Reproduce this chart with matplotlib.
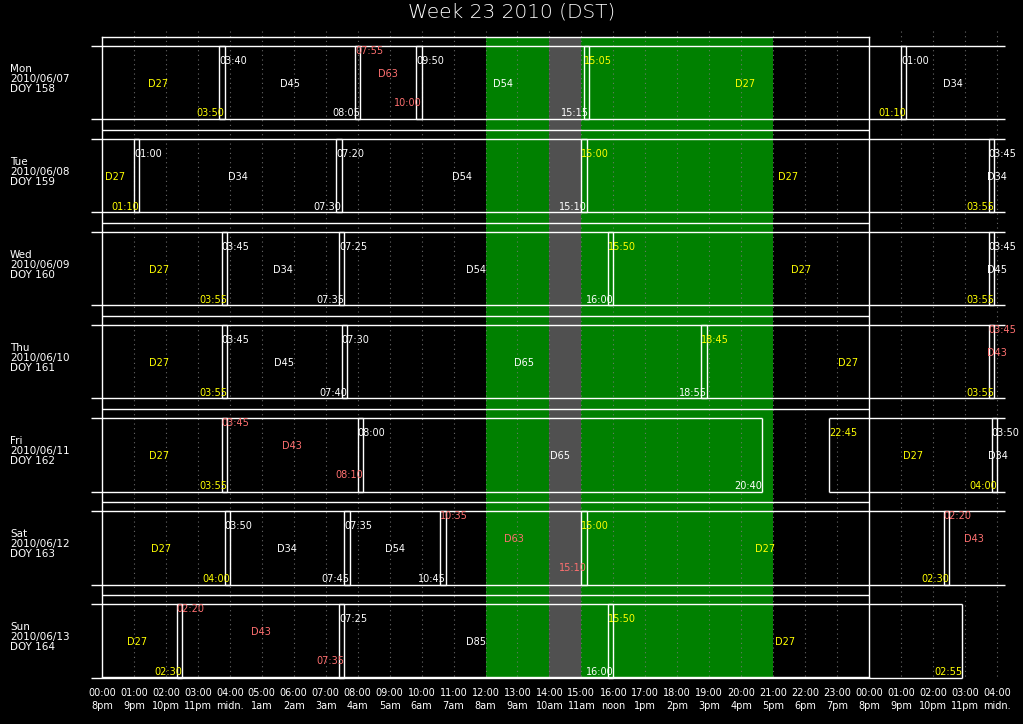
import matplotlib
matplotlib.use("Agg")
import matplotlib.pyplot as plt

plt.rcParams['font.family'] = ['DejaVu Sans']

# ---------------- data ----------------
title = "Week 23 2010 (DST)"
day_names = ["Mon", "Tue", "Wed", "Thu", "Fri", "Sat", "Sun"]
day_dates = ["2010/06/07", "2010/06/08", "2010/06/09", "2010/06/10",
             "2010/06/11", "2010/06/12", "2010/06/13"]
day_doy = [158, 159, 160, 161, 162, 163, 164]

# sessions over the week (day index: 0 = Mon ... 7 = next Mon)
stations = ["D27", "D45", "D63", "D54", "D27",
            "D34", "D54", "D27",
            "D34", "D54", "D27",
            "D45", "D65", "D27",
            "D43", "D65", "D27",
            "D34", "D54", "D63", "D27",
            "D43", "D85", "D27"]
start_day = [None, 0, 0, 0, 0,
             1, 1, 1,
             2, 2, 2,
             3, 3, 3,
             4, 4, 4,
             5, 5, 5, 5,
             6, 6, 6]
start_time = [None, "03:40", "07:55", "09:50", "15:05",
              "01:00", "07:20", "15:00",
              "03:45", "07:25", "15:50",
              "03:45", "07:30", "18:45",
              "03:45", "08:00", "22:45",
              "03:50", "07:35", "10:35", "15:00",
              "02:20", "07:25", "15:50"]
end_day = [0, 0, 0, 0, 1,
           1, 1, 2,
           2, 2, 3,
           3, 3, 4,
           4, 4, 5,
           5, 5, 5, 6,
           6, 6, 7]
end_time = ["03:50", "08:05", "10:00", "15:15", "01:10",
            "07:30", "15:10", "03:55",
            "07:35", "16:00", "03:55",
            "07:40", "18:55", "03:55",
            "08:10", "20:40", "04:00",
            "07:45", "10:45", "15:10", "02:30",
            "07:35", "16:00", "02:55"]

station_colors = {"D27": "#ffff00", "D43": "#ff7070", "D63": "#ff7070"}
red_group = {"D43", "D63"}

green_span = (12, 21)
gray_span = (14, 15)

tick_hours = list(range(0, 29))
tick_utc = ["00:00", "01:00", "02:00", "03:00", "04:00", "05:00", "06:00",
            "07:00", "08:00", "09:00", "10:00", "11:00", "12:00", "13:00",
            "14:00", "15:00", "16:00", "17:00", "18:00", "19:00", "20:00",
            "21:00", "22:00", "23:00", "00:00", "01:00", "02:00", "03:00",
            "04:00"]
tick_local = ["8pm", "9pm", "10pm", "11pm", "midn.", "1am", "2am", "3am",
              "4am", "5am", "6am", "7am", "8am", "9am", "10am", "11am",
              "noon", "1pm", "2pm", "3pm", "4pm", "5pm", "6pm", "7pm",
              "8pm", "9pm", "10pm", "11pm", "midn."]

# ---------------- layout ----------------
W, H = 1023, 724
fig = plt.figure(figsize=(W / 100, H / 100), dpi=100, facecolor="black")
ax = fig.add_axes([102 / W, 1 - 677 / H, 767 / W, 640 / H])
ax.set_facecolor("black")
ax.set_xlim(0, 24)
ax.set_ylim(640, 0)  # y in pixel-like units from axes top
ax.set_xticks([])
ax.set_yticks([])
for s in ax.spines.values():
    s.set_color("white")
    s.set_linewidth(1.0)
    s.set_zorder(5)

PITCH = 93.05
BAND_OFF = 8.5
BAND_H = 73.8
XL, XR = -0.33, 28.26
FS = 7

def hrs(t):
    h, m = t.split(":")
    return int(h) + int(m) / 60.0

ax.axvspan(*green_span, color="#008000", zorder=0, lw=0)
ax.axvspan(*gray_span, color="#505050", zorder=0.5, lw=0)

grid_hours = [h for h in tick_hours if h not in (0, 24)]
ax.vlines(grid_hours, -6, 640, colors="#7a7a7a", linestyles=(0, (1, 3.2)),
          lw=0.8, clip_on=False, zorder=1, alpha=0.85)

for k in range(1, 7):
    ax.hlines(PITCH * k, 0, 24, colors="white", lw=1.0, zorder=3)

for k in range(7):
    T = BAND_OFF + PITCH * k
    B = T + BAND_H
    ax.text(-92 / 31.958, T + 33.5,
            f"{day_names[k]}\n{day_dates[k]}\nDOY {day_doy[k]}",
            color="white", fontsize=7.5, ha="left", va="center",
            linespacing=1.0, clip_on=False)
    for i, st in enumerate(stations):
        a = float("-inf") if start_day[i] is None else start_day[i] * 24 + hrs(start_time[i]) - 24 * k
        b = end_day[i] * 24 + hrs(end_time[i]) - 24 * k
        if b < XL or a > XR:
            continue
        ca, cb = max(a, XL), min(b, XR)
        col = station_colors.get(st, "white")
        red = st in red_group
        ax.hlines([T, B], ca, cb, colors="white", lw=1.0, clip_on=False, zorder=4)
        if a >= XL:
            ax.vlines(a, T, B, colors="white", lw=1.0, clip_on=False, zorder=4)
            ax.text(a, T + (5.5 if red else 15.5), start_time[i], color=col,
                    fontsize=FS, ha="left", va="center", clip_on=False, zorder=6)
        if b <= XR:
            ax.vlines(b, T, B, colors="white", lw=1.0, clip_on=False, zorder=4)
            ax.text(b, T + (57.5 if red else 68.0), end_time[i], color=col,
                    fontsize=FS, ha="right", va="center", clip_on=False, zorder=6)
        ax.text((ca + cb) / 2, T + (28.5 if red else 38.5), st, color=col,
                fontsize=FS, ha="center", va="center", clip_on=False, zorder=6)

for h, u, l in zip(tick_hours, tick_utc, tick_local):
    ax.text(h, 640 + 16, u, color="white", fontsize=FS, ha="center",
            va="center", clip_on=False)
    ax.text(h, 640 + 29, l, color="white", fontsize=FS, ha="center",
            va="center", clip_on=False)

fig.text(0.5, 1 - 12 / H, title, color="white", fontsize=14.5, ha="center",
         va="center", fontweight="light")

fig.savefig("out.png", dpi=100, facecolor="black")
